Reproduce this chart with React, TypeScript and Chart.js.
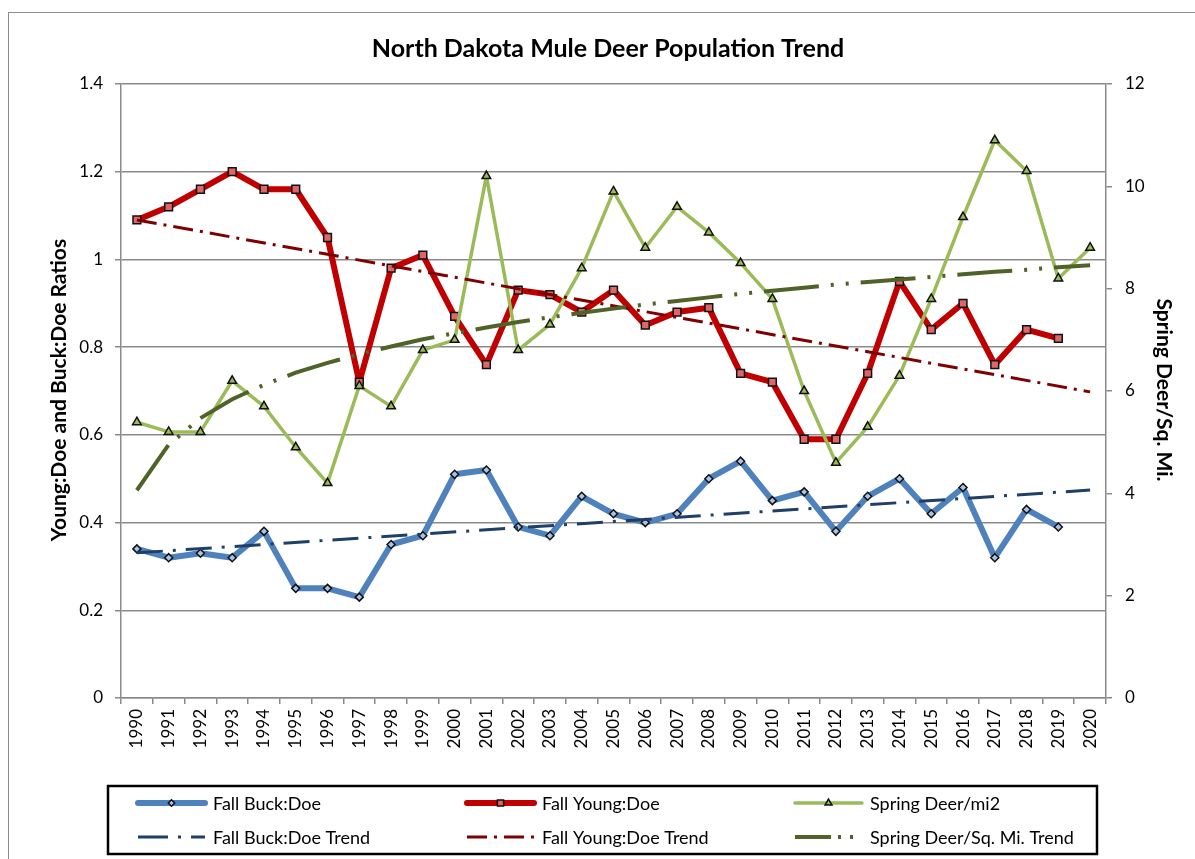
import React, { useEffect, useRef } from 'react';
import { Chart, registerables } from 'chart.js';

Chart.register(...registerables);

const FONT = 'Lato, "Open Sans", sans-serif';
const TITLE = 'North Dakota Mule Deer Population Trend';
const LEFT_TITLE = 'Young:Doe and Buck:Doe Ratios';
const RIGHT_TITLE = 'Spring Deer/Sq. Mi.';

const years = ['1990', '1991', '1992', '1993', '1994', '1995', '1996', '1997', '1998', '1999', '2000', '2001', '2002', '2003', '2004', '2005', '2006', '2007', '2008', '2009', '2010', '2011', '2012', '2013', '2014', '2015', '2016', '2017', '2018', '2019', '2020'];

const buckDoe = [0.34, 0.32, 0.33, 0.32, 0.38, 0.25, 0.25, 0.23, 0.35, 0.37, 0.51, 0.52, 0.39, 0.37, 0.46, 0.42, 0.40, 0.42, 0.50, 0.54, 0.45, 0.47, 0.38, 0.46, 0.50, 0.42, 0.48, 0.32, 0.43, 0.39, null];
const youngDoe = [1.09, 1.12, 1.16, 1.20, 1.16, 1.16, 1.05, 0.72, 0.98, 1.01, 0.87, 0.76, 0.93, 0.92, 0.88, 0.93, 0.85, 0.88, 0.89, 0.74, 0.72, 0.59, 0.59, 0.74, 0.95, 0.84, 0.90, 0.76, 0.84, 0.82, null];
const springDeer = [5.39, 5.2, 5.2, 6.2, 5.7, 4.9, 4.2, 6.1, 5.7, 6.8, 7.0, 10.2, 6.8, 7.3, 8.4, 9.9, 8.8, 9.6, 9.1, 8.5, 7.8, 6.0, 4.6, 5.3, 6.3, 7.8, 9.4, 10.9, 10.3, 8.2, 8.8];

const trendYears = ['1990', '2020'];
const buckTrendEnds = [0.331, 0.474];
const youngTrendEnds = [1.09, 0.698];
const springTrend = [4.06, 4.95, 5.47, 5.84, 6.12, 6.36, 6.55, 6.72, 6.87, 7.01, 7.13, 7.24, 7.35, 7.44, 7.53, 7.61, 7.69, 7.76, 7.83, 7.90, 7.96, 8.02, 8.08, 8.13, 8.18, 8.23, 8.28, 8.33, 8.37, 8.42, 8.46];

const leftTickLabels = ['0', '0.2', '0.4', '0.6', '0.8', '1', '1.2', '1.4'];
const rightTickLabels = ['0', '2', '4', '6', '8', '10', '12'];

const seriesLabels = ['Fall Buck:Doe', 'Fall Young:Doe', 'Spring Deer/mi2', 'Fall Buck:Doe Trend', 'Fall Young:Doe Trend', 'Spring Deer/Sq. Mi. Trend'];

const GRID = '#8a8a8a';

function drawMarker(ctx: CanvasRenderingContext2D, style: string, x: number, y: number, r: number, fill: string) {
  ctx.save();
  ctx.beginPath();
  if (style === 'rectRot') {
    ctx.moveTo(x, y - r); ctx.lineTo(x + r, y); ctx.lineTo(x, y + r); ctx.lineTo(x - r, y); ctx.closePath();
  } else if (style === 'rect') {
    const s = r * Math.SQRT1_2;
    ctx.rect(x - s, y - s, 2 * s, 2 * s);
  } else if (style === 'triangle') {
    ctx.moveTo(x, y - r);
    ctx.lineTo(x + r * 0.866, y + r * 0.5);
    ctx.lineTo(x - r * 0.866, y + r * 0.5);
    ctx.closePath();
  }
  ctx.fillStyle = fill;
  ctx.fill();
  ctx.lineWidth = 1.5;
  ctx.strokeStyle = '#111';
  ctx.stroke();
  ctx.restore();
}

const overlayPlugin = {
  id: 'overlay',
  afterDraw(chart: any) {
    const ctx: CanvasRenderingContext2D = chart.ctx;
    ctx.save();
    ctx.fillStyle = '#000';
    ctx.textAlign = 'center';
    ctx.textBaseline = 'middle';
    ctx.font = `bold 25px ${FONT}`;
    ctx.fillText(TITLE, 599, 36);

    ctx.font = `bold 21px ${FONT}`;
    ctx.save();
    ctx.translate(50, 377);
    ctx.rotate(-Math.PI / 2);
    ctx.fillText(LEFT_TITLE, 0, 0);
    ctx.restore();

    ctx.save();
    ctx.translate(1155, 377);
    ctx.rotate(Math.PI / 2);
    ctx.fillText(RIGHT_TITLE, 0, 0);
    ctx.restore();

    // legend
    ctx.lineWidth = 2.5;
    ctx.strokeStyle = '#000';
    ctx.strokeRect(99, 773, 989, 68);
    const cols = [129, 458, 786];
    const rows = [790, 824];
    const sampleLen = 67;
    const legendDash: (number[] | null)[] = [null, null, null, [30, 10, 3, 10], [20, 7, 3, 7], [36, 7, 3, 9, 3, 9]];
    ctx.font = `18px ${FONT}`;
    ctx.textAlign = 'left';
    chart.data.datasets.forEach((ds: any, i: number) => {
      const cx = cols[i % 3];
      const cy = rows[Math.floor(i / 3)];
      ctx.save();
      ctx.beginPath();
      ctx.strokeStyle = ds.borderColor;
      ctx.lineWidth = ds.borderWidth;
      ctx.lineCap = legendDash[i] ? 'butt' : 'round';
      ctx.setLineDash(legendDash[i] || []);
      ctx.moveTo(cx, cy);
      ctx.lineTo(cx + sampleLen, cy);
      ctx.stroke();
      ctx.restore();
      if (ds.pointRadius > 0) {
        drawMarker(ctx, ds.pointStyle, cx + sampleLen / 2, cy, ds.pointRadius * 0.8, ds.pointBackgroundColor);
      }
      ctx.fillStyle = '#000';
      ctx.fillText(seriesLabels[i], cx + sampleLen + 8, cy + 1);
    });
    ctx.restore();
  },
};

export default function App() {
  const ref = useRef<HTMLCanvasElement>(null);
  useEffect(() => {
    if (!ref.current) return;
    const chart = new Chart(ref.current, {
      type: 'line',
      data: {
        labels: years,
        datasets: [
          {
            label: seriesLabels[0], data: buckDoe, yAxisID: 'y', borderColor: '#4F81BD', borderWidth: 6,
            pointStyle: 'rectRot', pointRadius: 4, pointBackgroundColor: '#A9C4E6', pointBorderColor: '#111', pointBorderWidth: 1.5,
            tension: 0, order: 6, borderCapStyle: 'round', borderJoinStyle: 'round',
          },
          {
            label: seriesLabels[1], data: youngDoe, yAxisID: 'y', borderColor: '#C00000', borderWidth: 6,
            pointStyle: 'rect', pointRadius: 5.5, pointBackgroundColor: '#E06666', pointBorderColor: '#111', pointBorderWidth: 1.5,
            tension: 0, order: 5, borderCapStyle: 'round', borderJoinStyle: 'round',
          },
          {
            label: seriesLabels[2], data: springDeer, yAxisID: 'y2', borderColor: '#9BBB59', borderWidth: 3.5,
            pointStyle: 'triangle', pointRadius: 5, pointBackgroundColor: '#9BBB59', pointBorderColor: '#111', pointBorderWidth: 1.5,
            tension: 0, order: 4, borderJoinStyle: 'round',
          },
          {
            label: seriesLabels[3], data: trendYears.map((x, i) => ({ x, y: buckTrendEnds[i] })), yAxisID: 'y',
            borderColor: '#1F3F66', borderWidth: 3, borderDash: [26, 10, 3, 10], pointRadius: 0, order: 3,
          },
          {
            label: seriesLabels[4], data: trendYears.map((x, i) => ({ x, y: youngTrendEnds[i] })), yAxisID: 'y',
            borderColor: '#7F0000', borderWidth: 3, borderDash: [20, 7, 3, 7], pointRadius: 0, order: 2,
          },
          {
            label: seriesLabels[5], data: springTrend, yAxisID: 'y2',
            borderColor: '#4F6228', borderWidth: 4, borderDash: [55, 12, 3, 12, 3, 12], pointRadius: 0, order: 1,
          },
        ] as any,
      },
      plugins: [overlayPlugin],
      options: {
        animation: false,
        responsive: false,
        devicePixelRatio: 1,
        layout: { padding: { top: 71, left: 0, right: 0, bottom: 0 } },
        plugins: { legend: { display: false }, title: { display: false }, tooltip: { enabled: false } },
        scales: {
          x: {
            type: 'category',
            offset: true,
            grid: { display: true, drawOnChartArea: false, drawTicks: true, tickLength: 6, offset: true, color: GRID, lineWidth: 1.5 },
            border: { display: true, color: GRID, width: 1.5 },
            ticks: { autoSkip: false, maxRotation: 90, minRotation: 90, padding: 5, color: '#000', font: { family: FONT, size: 17 } },
            afterFit: (s: any) => { s.height = 161; },
          },
          y: {
            position: 'left', min: 0, max: 1.4,
            grid: { color: GRID, lineWidth: 1.5, tickLength: 6, drawTicks: true },
            border: { display: true, color: GRID, width: 1.5 },
            ticks: { stepSize: 0.2, padding: 12, color: '#000', font: { family: FONT, size: 17 }, callback: (_v: any, i: number) => leftTickLabels[i] },
            afterFit: (s: any) => { s.width = 112; },
          },
          y2: {
            position: 'right', min: 0, max: 12,
            grid: { drawOnChartArea: false, color: GRID, lineWidth: 1.5, tickLength: 6, drawTicks: true },
            border: { display: true, color: GRID, width: 1.5 },
            ticks: { stepSize: 2, padding: 13, color: '#000', font: { family: FONT, size: 17 }, callback: (_v: any, i: number) => rightTickLabels[i] },
            afterFit: (s: any) => { s.width = 89; },
          },
        },
      } as any,
    });
    return () => chart.destroy();
  }, []);

  return (
    <div style={{ position: 'fixed', left: 8, top: 12, width: 1187, height: 847, borderLeft: '1px solid #8c8c8c', borderTop: '1px solid #8c8c8c', background: '#fff' }}>
      <canvas ref={ref} width={1186} height={846} style={{ display: 'block', width: 1186, height: 846 }} />
    </div>
  );
}
